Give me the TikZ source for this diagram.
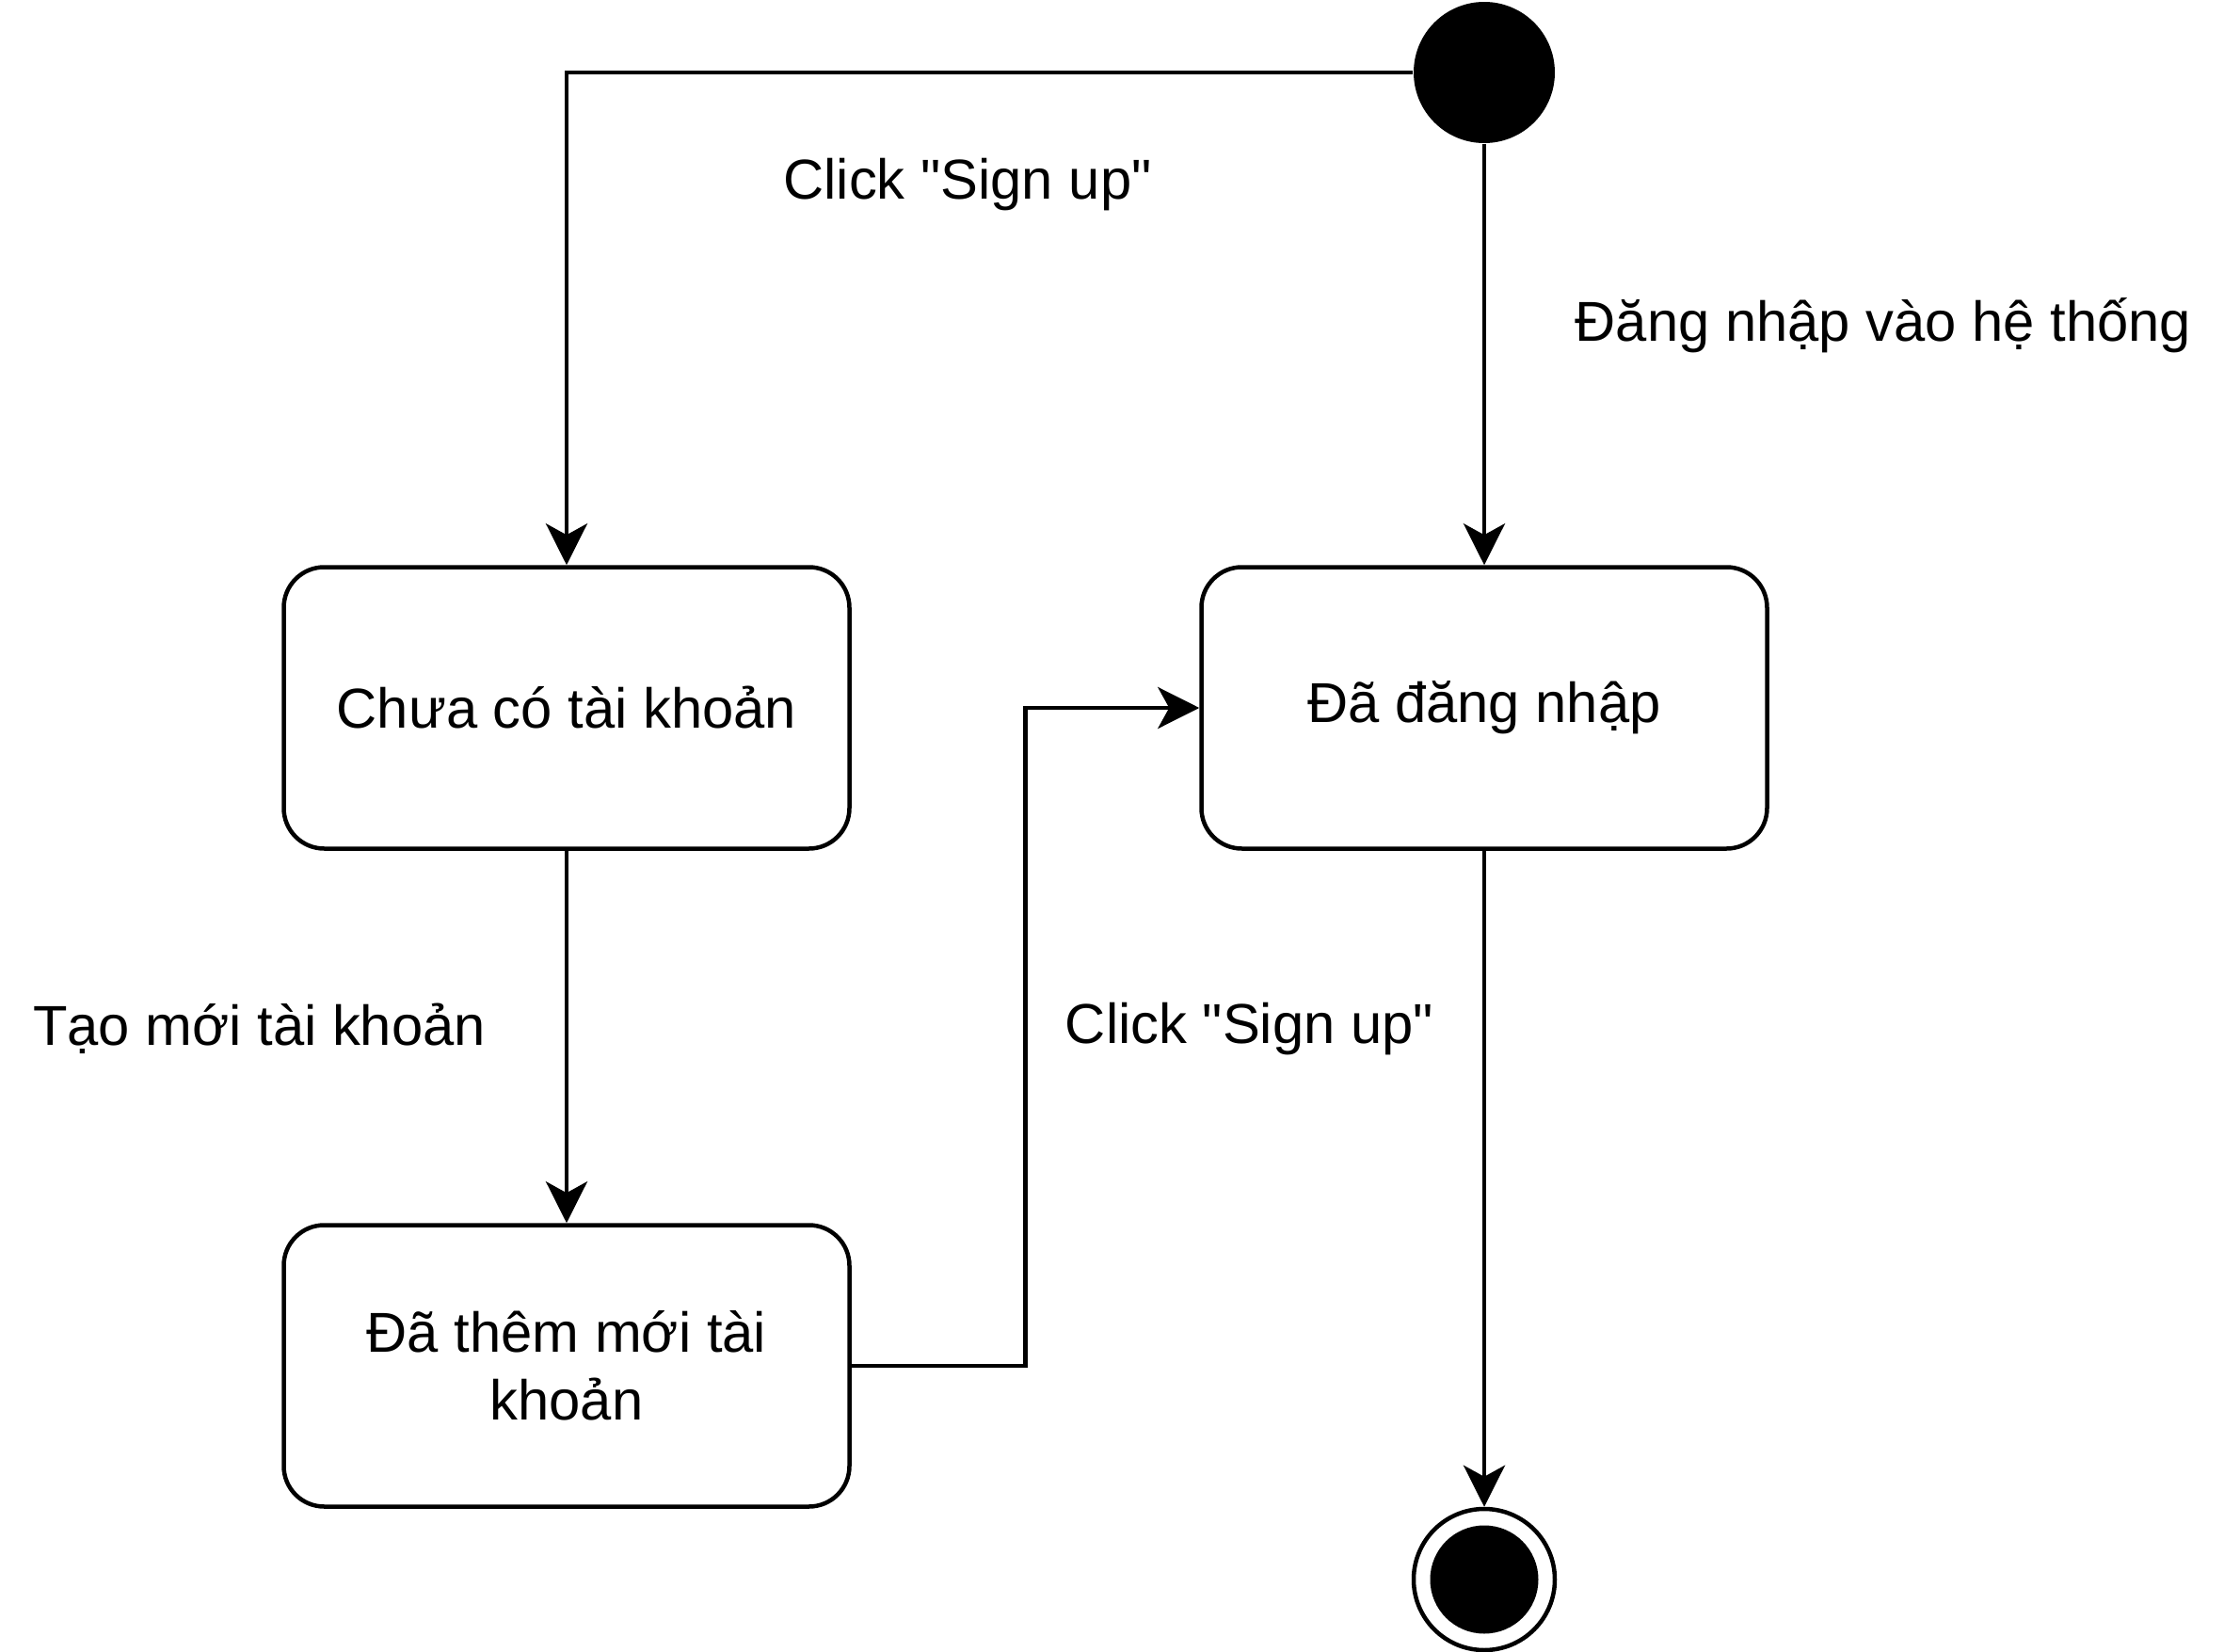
\documentclass[tikz,border=0pt]{standalone}
\usepackage{fontspec}
\setmainfont{Liberation Sans}
\usetikzlibrary{arrows.meta,calc}
\tikzstyle{state} = [rectangle, draw, line width=0.045cm, align=center, rounded corners=0.43cm, minimum height=2.99cm, minimum width=6.01cm]
\tikzstyle{initial} = [circle, fill=black, minimum size=1.5cm, inner sep=0pt]
\tikzstyle{final} = [circle, draw, line width=0.045cm, minimum size=1.5cm, inner sep=0pt]
\tikzstyle{label} = [inner sep=0pt]
\tikzstyle{line} = [draw, line width=0.045cm, -{Stealth[length=0.44cm, width=0.44cm, inset=0.12cm]}]

\begin{document}
\begin{tikzpicture}[node distance = 6.75cm, font=\fontsize{17pt}{20.4pt}\selectfont]
\useasboundingbox (0,0) rectangle (23.8,-17.55);
\node [initial] (start) at (15.77,-0.77) {};
\node [state, below of=start] (loggedin) {Đã đăng nhập};
\node [state, left of=loggedin, node distance=9.75cm] (noacc) {Chưa có tài khoản};
\node [state, below of=noacc, node distance=6.99cm] (added) {Đã thêm mới tài\\khoản};
\node [final, below of=loggedin, node distance=9.26cm] (stop) {};
\fill (stop.center) circle (0.575);
\coordinate (mid) at ($(added.east)!0.5!(loggedin.west)$);
% transition labels
\node [label] (signup1) at (10.28,-1.96) {Click \textquotedbl Sign up\textquotedbl};
\node [label] (login) at (20.01,-3.46) {Đăng nhập vào hệ thống};
\node [label] (create) at (2.755,-10.93) {Tạo mới tài khoản};
\node [label] (signup2) at (13.275,-10.93) {Click \textquotedbl Sign up\textquotedbl};
\path [line] (start.west) -| (noacc.north);
\path [line] (start) -- (loggedin);
\path [line] (noacc) -- (added);
\path [line] (added.east) -| (mid) |- (loggedin.west);
\path [line] (loggedin) -- (stop);
\end{tikzpicture}
\end{document}
